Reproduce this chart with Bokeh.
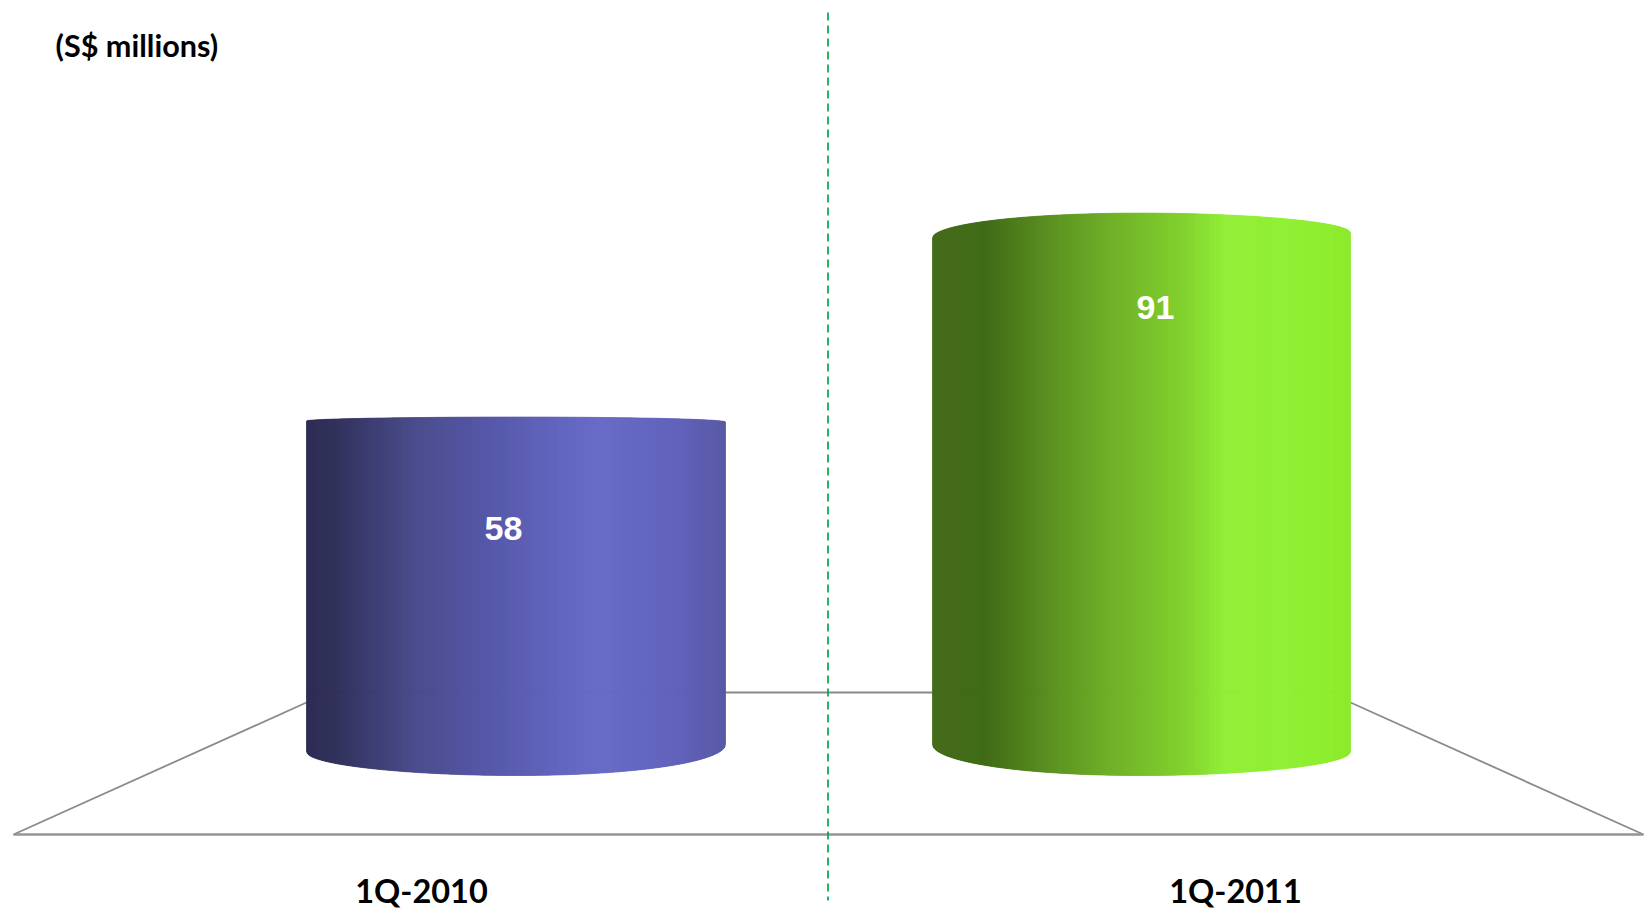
import numpy as np
from bokeh.core.properties import value
from bokeh.embed import file_html
from bokeh.models import ColumnDataSource, Range1d
from bokeh.plotting import figure
from bokeh.resources import INLINE

# Chart content
periods = ["1Q-2010", "1Q-2011"]
revenue = [58, 91]
unit_label = "(S$ millions)"

# Cylinder geometry, in canvas units
bar_left = [306, 932]
bar_right = [725, 1350]
top_rim_depth = [(4, 5), (25, 20)]      # left / right corner drop of the top rim
bottom_rim_depth = [(24, 31), (31, 24)]  # left / right corner rise of the bottom rim
label_x = [503, 1155]
label_drop = [18.1, 15.2]
period_x = [421, 1235]

# Horizontal shading stops: fraction across the cylinder, colour
shade_stops = [
    [(0.00, "#2b2a52"), (0.06, "#2e2e58"), (0.26, "#494a8b"), (0.42, "#5355a5"),
     (0.62, "#6265c0"), (0.70, "#676ac6"), (0.88, "#5f61bb"), (1.00, "#5757a3")],
    [(0.00, "#426a18"), (0.13, "#3f6a14"), (0.30, "#5c9420"), (0.45, "#70b426"),
     (0.60, "#80d02c"), (0.70, "#90ee36"), (0.85, "#8ff032"), (1.00, "#8aea2a")],
]

WIDTH, HEIGHT = 1645, 915
UNITS_PER_VALUE = 6.18
BASELINE_PX = 775


def hex_rgb(code):
    return np.array([int(code[i:i + 2], 16) for i in (1, 3, 5)], dtype=float)


def shade(stops, fraction):
    positions = [s[0] for s in stops]
    colours = np.array([hex_rgb(s[1]) for s in stops])
    rgb = [np.interp(fraction, positions, colours[:, k]) for k in range(3)]
    return "#%02x%02x%02x" % tuple(int(round(c)) for c in rgb)


def to_value(px):
    return (BASELINE_PX - px) / UNITS_PER_VALUE


p = figure(
    width=WIDTH, height=HEIGHT, output_backend="svg", toolbar_location=None,
    x_range=Range1d(0, WIDTH),
    y_range=Range1d(to_value(HEIGHT), to_value(0)),
    min_border=0, outline_line_color=None, background_fill_color="white",
)
p.axis.visible = False
p.grid.visible = False

# Floor of the 3D plot: back edge, two sides and the front edge
floor_colour = "#8a8a8a"
p.line([306, 1350], [to_value(692)] * 2, line_color=floor_colour, line_width=1.8)
p.line([13, 306], [to_value(834), to_value(702)], line_color=floor_colour, line_width=1.8)
p.line([1350, 1643], [to_value(702), to_value(834)], line_color=floor_colour, line_width=1.8)
p.line([13, 1643], [to_value(834)] * 2, line_color="#949494", line_width=2.6)


def rim(t, left_depth, right_depth):
    """Drop of an elliptical rim below its corners, t running from -1 to 1."""
    corner = left_depth + (right_depth - left_depth) * (t + 1) / 2
    return corner * (1 - np.sqrt(np.clip(1 - t * t, 0, 1)))


# Each cylinder is a run of narrow shaded slices bounded by its two rims
for i, amount in enumerate(revenue):
    left, right = bar_left[i], bar_right[i]
    edges = np.arange(left, right + 1, 1.0)
    t = (edges - left) / (right - left) * 2 - 1
    top_px = (BASELINE_PX - amount * UNITS_PER_VALUE) + rim(t, *top_rim_depth[i])
    bottom_px = BASELINE_PX - rim(t, *bottom_rim_depth[i])
    xs, ys, colours = [], [], []
    for k in range(len(edges) - 1):
        xs.append([edges[k], edges[k + 1], edges[k + 1], edges[k]])
        ys.append([to_value(top_px[k]), to_value(top_px[k + 1]),
                   to_value(bottom_px[k + 1]), to_value(bottom_px[k])])
        colours.append(shade(shade_stops[i], (edges[k] + 0.5 - left) / (right - left)))
    source = ColumnDataSource(dict(xs=xs, ys=ys, colour=colours))
    p.patches("xs", "ys", source=source, fill_color="colour", fill_alpha=1.0,
              line_color="colour", line_alpha=1.0, line_width=0.8)

# Divider between the two quarters
p.line([827.5, 827.5], [to_value(12), to_value(900)], line_color="#00a84a",
       line_width=1.7, line_dash="8 5")

# Values on the cylinders
p.text(label_x, [v - d for v, d in zip(revenue, label_drop)], text=[str(v) for v in revenue],
       text_font=value("Liberation Sans"), text_font_style="bold", text_font_size="34px",
       text_color="white", text_align="center", text_baseline="middle")

# Quarter labels and unit note
p.text(period_x, [to_value(890)] * 2, text=periods,
       text_font=value("Lato"), text_font_style="bold", text_font_size="32.5px",
       text_color="black", text_align="center", text_baseline="middle")
p.text([55], [to_value(45)], text=[unit_label],
       text_font=value("Lato"), text_font_style="bold", text_font_size="30.6px",
       text_color="black", text_align="left", text_baseline="middle")

open("out.html", "w").write(file_html(p, INLINE))
